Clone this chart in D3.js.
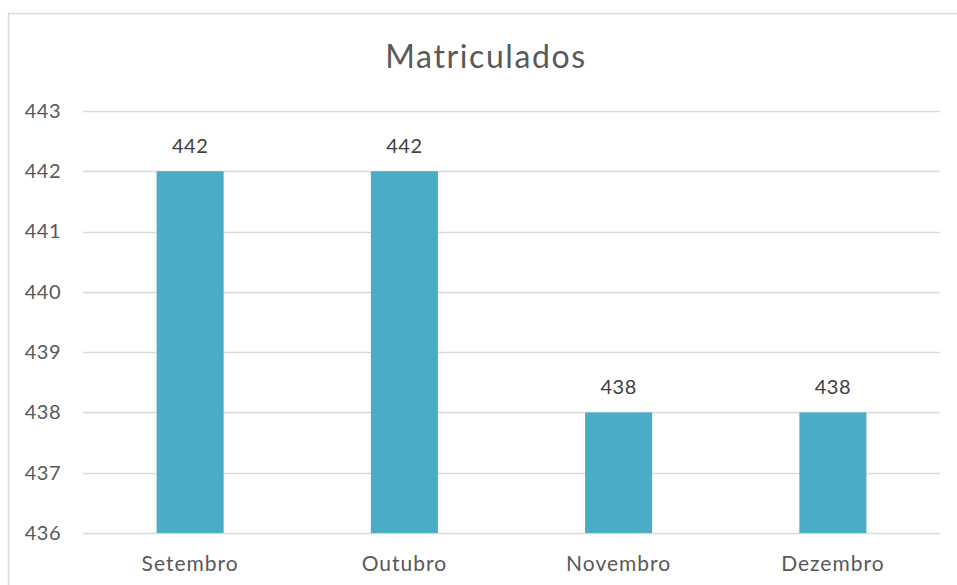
<!DOCTYPE html>
<html>
<head>
<meta charset="utf-8">
<script src="https://cdn.jsdelivr.net/npm/d3@7"></script>
<style>
  body { margin: 0; background: #fff; }
  text { font-family: Lato, "Open Sans", sans-serif; }
</style>
</head>
<body>
<div id="container"></div>
<script>
// data
const months = ["Setembro", "Outubro", "Novembro", "Dezembro"];
const enrolled = [442, 442, 438, 438];
const yTicks = [436, 437, 438, 439, 440, 441, 442, 443];

const width = 957,
  height = 585,
  margin = { top: 111, bottom: 52, left: 83, right: 17 };

const svg = d3.select("#container")
  .append("svg")
  .attr("width", width)
  .attr("height", height);

// chart frame
svg.append("rect")
  .attr("x", 8.5)
  .attr("y", 13.5)
  .attr("width", width + 10)
  .attr("height", height + 10)
  .attr("fill", "none")
  .attr("stroke", "#d9d9d9")
  .attr("stroke-width", 1.5);

const x = d3.scaleBand()
  .domain(months)
  .range([margin.left, width - margin.right])
  .paddingInner(0.687)
  .paddingOuter(0.3435);

const y = d3.scaleLinear()
  .domain([436, 443])
  .range([height - margin.bottom, margin.top]);

// gridlines
svg.append("g")
  .selectAll("line")
  .data(yTicks)
  .join("line")
  .attr("x1", margin.left)
  .attr("x2", width - margin.right)
  .attr("y1", d => Math.round(y(d)) + 0.5)
  .attr("y2", d => Math.round(y(d)) + 0.5)
  .attr("stroke", "#d9d9d9")
  .attr("stroke-width", 1.5);

// y axis labels
const yAxis = svg.append("g")
  .attr("transform", `translate(${margin.left - 22},0)`)
  .call(d3.axisLeft(y).tickValues(yTicks).tickFormat(d3.format("d")).tickSize(0).tickPadding(0));
yAxis.select(".domain").remove();
yAxis.selectAll("text")
  .attr("fill", "#595959")
  .style("font-size", "20px")
  .style("letter-spacing", "0.5px");

// bars
svg.append("g")
  .selectAll("rect")
  .data(enrolled)
  .join("rect")
  .attr("x", (d, i) => x(months[i]))
  .attr("width", x.bandwidth())
  .attr("y", d => y(d))
  .attr("height", d => y(436) - y(d))
  .attr("fill", "#4bacc6");

// value labels
svg.append("g")
  .selectAll("text")
  .data(enrolled)
  .join("text")
  .attr("x", (d, i) => x(months[i]) + x.bandwidth() / 2)
  .attr("y", d => y(d) - 18)
  .attr("text-anchor", "middle")
  .attr("fill", "#404040")
  .style("font-size", "20px")
  .style("letter-spacing", "0.5px")
  .text(d => d);

// x axis labels
const xAxis = svg.append("g")
  .attr("transform", `translate(0,${height - margin.bottom})`)
  .call(d3.axisBottom(x).tickSize(0).tickPadding(23));
xAxis.select(".domain").remove();
xAxis.selectAll("text")
  .attr("fill", "#595959")
  .style("font-size", "21px")
  .style("letter-spacing", "1px");

// title
svg.append("text")
  .attr("x", 486)
  .attr("y", 68)
  .attr("text-anchor", "middle")
  .attr("fill", "#595959")
  .style("font-size", "32px")
  .style("letter-spacing", "1.6px")
  .text("Matriculados");
</script>
</body>
</html>
